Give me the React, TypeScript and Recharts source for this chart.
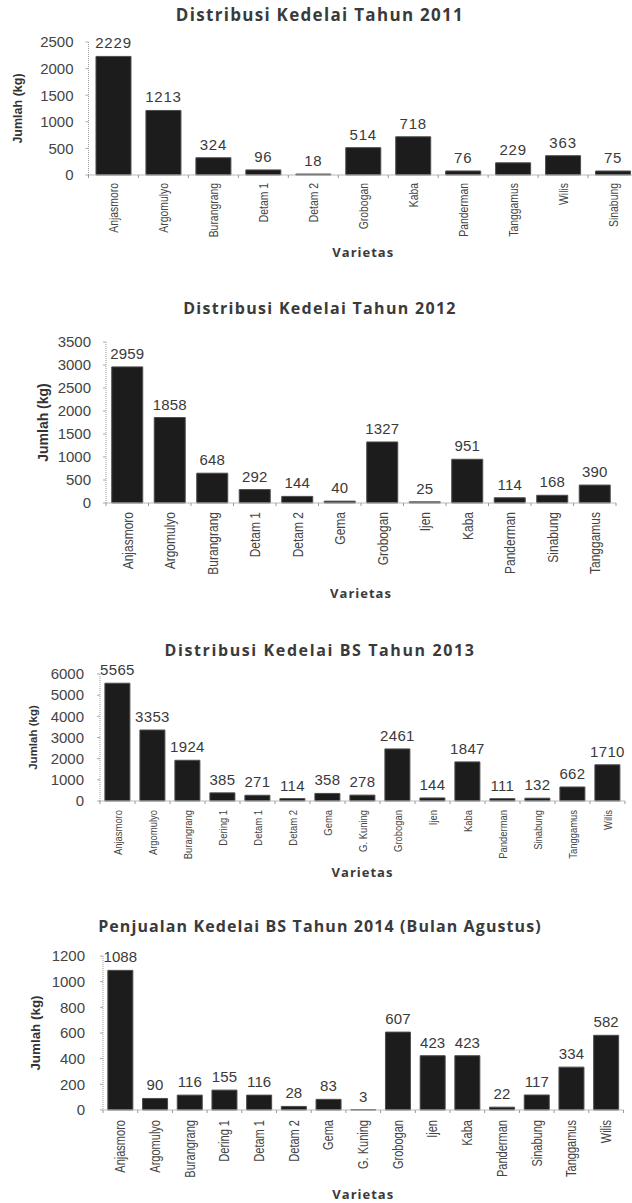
import React from "react";
import { BarChart, Bar, XAxis, YAxis, LabelList, Label } from "recharts";

// 2011
const varieties2011 = ["Anjasmoro", "Argomulyo", "Burangrang", "Detam 1", "Detam 2", "Grobogan", "Kaba", "Panderman", "Tanggamus", "Wilis", "Sinabung"];
const amounts2011 = [2229, 1213, 324, 96, 18, 514, 718, 76, 229, 363, 75];
const ticks2011 = [0, 500, 1000, 1500, 2000, 2500];

// 2012
const varieties2012 = ["Anjasmoro", "Argomulyo", "Burangrang", "Detam 1", "Detam 2", "Gema", "Grobogan", "Ijen", "Kaba", "Panderman", "Sinabung", "Tanggamus"];
const amounts2012 = [2959, 1858, 648, 292, 144, 40, 1327, 25, 951, 114, 168, 390];
const ticks2012 = [0, 500, 1000, 1500, 2000, 2500, 3000, 3500];

// 2013 (BS)
const varieties2013 = ["Anjasmoro", "Argomulyo", "Burangrang", "Dering 1", "Detam 1", "Detam 2", "Gema", "G. Kuning", "Grobogan", "Ijen", "Kaba", "Panderman", "Sinabung", "Tanggamus", "Wilis"];
const amounts2013 = [5565, 3353, 1924, 385, 271, 114, 358, 278, 2461, 144, 1847, 111, 132, 662, 1710];
const ticks2013 = [0, 1000, 2000, 3000, 4000, 5000, 6000];

// 2014 (BS, Agustus)
const varieties2014 = ["Anjasmoro", "Argomulyo", "Burangrang", "Dering 1", "Detam 1", "Detam 2", "Gema", "G. Kuning", "Grobogan", "Ijen", "Kaba", "Panderman", "Sinabung", "Tanggamus", "Wilis"];
const amounts2014 = [1088, 90, 116, 155, 116, 28, 83, 3, 607, 423, 423, 22, 117, 334, 582];
const ticks2014 = [0, 200, 400, 600, 800, 1000, 1200];

const ARIAL = "'Liberation Sans', Arial, sans-serif";
const TITLE_FONT = "'Open Sans', 'Noto Sans', sans-serif";
// the scan uses a narrow face for the category names; squeeze Arial to match
const NARROW_SCALE = 0.8;

type Layout = {
  title: string;
  titleY: number;
  titleSize: number;
  titleSpacing: number;
  svgTop: number;
  svgHeight: number;
  width: number;
  plotLeft: number;
  plotRight: number;
  plotTop: number;
  plotBottom: number;
  yTitleX: number;
  yTitleSize: number;
  tickGap: number;
  xLabelGap: number;
  xFont: number;
  numSpacing: number;
  varY: number;
  gap: string;
};

function KedelaiChart({ names, values, ticks, lay }: { names: string[]; values: number[]; ticks: number[]; lay: Layout }) {
  const data = names.map((name, i) => ({ name, value: values[i] }));
  const half = (lay.plotRight - lay.plotLeft) / names.length / 2;
  const xAxisHeight = lay.svgHeight - (lay.plotBottom - lay.svgTop);

  const XTick = (props: any) => {
    const { x, y, payload, index } = props;
    return (
      <g transform={`translate(${x},${y})`}>
        <line x1={-half} x2={-half} y1={0} y2={3} stroke="#999" />
        {index === names.length - 1 && <line x1={half} x2={half} y1={0} y2={3} stroke="#999" />}
        <text
          transform={`rotate(-90) scale(${NARROW_SCALE} 1)`}
          x={-lay.xLabelGap / NARROW_SCALE}
          y={0}
          dy="0.35em"
          textAnchor="end"
          fill="#444"
          fontSize={lay.xFont}
          fontFamily={ARIAL}
        >
          {payload.value}
        </text>
      </g>
    );
  };

  const yTitleY = (lay.plotTop + lay.plotBottom) / 2 - lay.svgTop;

  return (
    <>
      <div
        style={{
          position: "absolute",
          left: 0,
          width: 640,
          top: lay.titleY - 12,
          height: 24,
          lineHeight: "24px",
          textAlign: "center",
          fontFamily: TITLE_FONT,
          fontWeight: 700,
          fontSize: lay.titleSize,
          letterSpacing: lay.titleSpacing,
          color: "#3a3a3a",
          whiteSpace: "nowrap",
        }}
      >
        {lay.title}
      </div>
      <div style={{ position: "absolute", left: 0, top: lay.svgTop }}>
        <BarChart
          width={lay.width}
          height={lay.svgHeight}
          data={data}
          margin={{ top: lay.plotTop - lay.svgTop, right: lay.width - lay.plotRight, bottom: 0, left: 0 }}
          barCategoryGap={lay.gap}
        >
          <XAxis
            dataKey="name"
            interval={0}
            height={xAxisHeight}
            tick={<XTick />}
            tickLine={false}
            tickSize={0}
            tickMargin={0}
            axisLine={{ stroke: "#bbb" }}
          >
            <Label
              content={() => (
                <text
                  x={(lay.plotLeft + lay.plotRight) / 2}
                  y={lay.varY - lay.svgTop}
                  dominantBaseline="central"
                  textAnchor="middle"
                  fontFamily={TITLE_FONT}
                  fontWeight={700}
                  fontSize={13}
                  letterSpacing={1}
                  fill="#3a3a3a"
                >
                  Varietas
                </text>
              )}
            />
          </XAxis>
          <YAxis
            width={lay.plotLeft}
            domain={[ticks[0], ticks[ticks.length - 1]]}
            ticks={ticks}
            interval={0}
            tickSize={3}
            tickMargin={lay.tickGap - 3}
            tickLine={{ stroke: "#aaa" }}
            axisLine={{ stroke: "#999", strokeDasharray: "1 1" }}
            tick={{ fill: "#444", fontSize: 15, fontFamily: ARIAL }}
          >
            <Label
              content={() => (
                <text
                  x={lay.yTitleX}
                  y={yTitleY}
                  transform={`rotate(-90 ${lay.yTitleX} ${yTitleY})`}
                  dominantBaseline="central"
                  textAnchor="middle"
                  fontFamily={ARIAL}
                  fontWeight={700}
                  fontSize={lay.yTitleSize}
                  fill="#333"
                >
                  Jumlah (kg)
                </text>
              )}
            />
          </YAxis>
          <Bar dataKey="value" fill="#1c1c1c" stroke="#4d4d4d" strokeWidth={1} isAnimationActive={false}>
            <LabelList
              dataKey="value"
              position="top"
              offset={8}
              fill="#3a3a3a"
              fontSize={15}
              fontFamily={ARIAL}
              letterSpacing={lay.numSpacing}
            />
          </Bar>
        </BarChart>
      </div>
    </>
  );
}

const layout2011: Layout = {
  title: "Distribusi Kedelai Tahun  2011",
  titleY: 15, titleSize: 17, titleSpacing: 1.3,
  svgTop: 20, svgHeight: 250, width: 640,
  plotLeft: 88.5, plotRight: 638, plotTop: 42, plotBottom: 175,
  yTitleX: 18, yTitleSize: 12.5, tickGap: 15, xLabelGap: 8, xFont: 13, numSpacing: 0.8,
  varY: 252, gap: "15%",
};

const layout2012: Layout = {
  title: "Distribusi Kedelai Tahun  2012",
  titleY: 308, titleSize: 16, titleSpacing: 1.3,
  svgTop: 320, svgHeight: 290, width: 632,
  plotLeft: 106, plotRight: 616, plotTop: 342, plotBottom: 503,
  yTitleX: 43, yTitleSize: 14, tickGap: 15, xLabelGap: 9, xFont: 15, numSpacing: 0.2,
  varY: 593, gap: "13.5%",
};

const layout2013: Layout = {
  title: "Distribusi Kedelai BS Tahun 2013",
  titleY: 650, titleSize: 16, titleSpacing: 1.6,
  svgTop: 660, svgHeight: 225, width: 632,
  plotLeft: 100, plotRight: 625, plotTop: 674, plotBottom: 801,
  yTitleX: 33, yTitleSize: 11.5, tickGap: 16, xLabelGap: 9, xFont: 11.8, numSpacing: 0.3,
  varY: 872, gap: "14%",
};

const layout2014: Layout = {
  title: "Penjualan  Kedelai BS Tahun  2014 (Bulan Agustus)",
  titleY: 926, titleSize: 16, titleSpacing: 1.1,
  svgTop: 940, svgHeight: 263, width: 632,
  plotLeft: 103, plotRight: 623.5, plotTop: 956, plotBottom: 1110,
  yTitleX: 35, yTitleSize: 13.4, tickGap: 18, xLabelGap: 10, xFont: 13.8, numSpacing: 0.1,
  varY: 1194, gap: "14%",
};

export default function App() {
  return (
    <div style={{ position: "absolute", left: 0, top: 0, width: 632, height: 1203, overflow: "hidden", background: "#fff" }}>
      <KedelaiChart names={varieties2011} values={amounts2011} ticks={ticks2011} lay={layout2011} />
      <KedelaiChart names={varieties2012} values={amounts2012} ticks={ticks2012} lay={layout2012} />
      <KedelaiChart names={varieties2013} values={amounts2013} ticks={ticks2013} lay={layout2013} />
      <KedelaiChart names={varieties2014} values={amounts2014} ticks={ticks2014} lay={layout2014} />
    </div>
  );
}
